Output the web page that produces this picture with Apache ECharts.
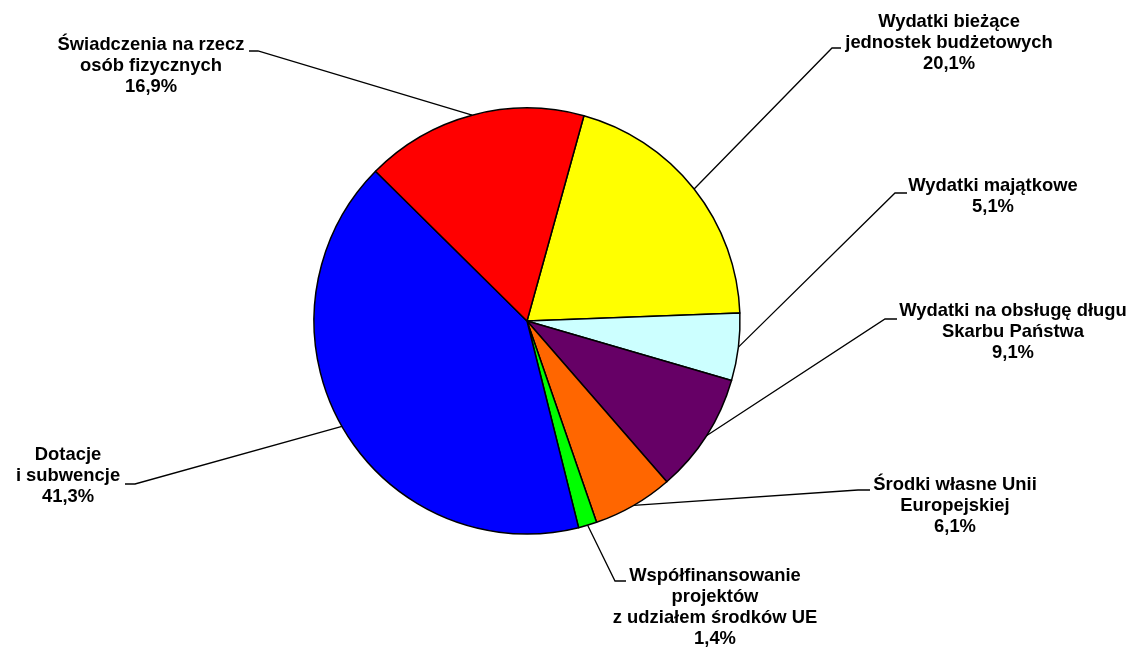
<!DOCTYPE html>
<html>
<head>
<meta charset="utf-8">
<script src="https://cdn.jsdelivr.net/npm/echarts@6/dist/echarts.min.js"></script>
<style>
html,body{margin:0;padding:0;background:#fff;}
#main{width:1136px;height:650px;}
</style>
</head>
<body>
<div id="main"></div>
<script>
// Data (clockwise from the top-right)
const categories = [
  "Wydatki bieżące\njednostek budżetowych",
  "Wydatki majątkowe",
  "Wydatki na obsługę długu\nSkarbu Państwa",
  "Środki własne Unii\nEuropejskiej",
  "Współfinansowanie\nprojektów\nz udziałem środków UE",
  "Dotacje\ni subwencje",
  "Świadczenia na rzecz\nosób fizycznych"
];
const values = [20.1, 5.1, 9.1, 6.1, 1.4, 41.3, 16.9];
const colors = ["#FFFF00", "#CCFFFF", "#660066", "#FF6600", "#00FF00", "#0000FF", "#FF0000"];

// Label layout (block centre x, block top y, leader elbow, leader end)
const labelPos = [
  {x: 949, y: 11,  elbow: [832, 48],  end: [841, 48]},
  {x: 993, y: 175, elbow: [895, 193], end: [907, 193]},
  {x: 1013, y: 300, elbow: [885, 319], end: [897, 319]},
  {x: 955, y: 474, elbow: [858, 490], end: [870, 490]},
  {x: 715, y: 565, elbow: [615, 581], end: [626, 581]},
  {x: 68,  y: 444, elbow: [135, 484], end: [125, 484]},
  {x: 151, y: 34,  elbow: [258, 51],  end: [249, 51]}
];

const chart = echarts.init(document.getElementById('main'));
chart.setOption({
  animation: false,
  backgroundColor: '#ffffff',
  series: [{
    type: 'pie',
    center: [527, 321],
    radius: 213,
    startAngle: 74.5,
    clockwise: true,
    avoidLabelOverlap: false,
    itemStyle: {borderColor: '#000', borderWidth: 1.5},
    label: {
      show: true,
      position: 'outside',
      color: '#000',
      fontFamily: 'Liberation Sans, Arial, sans-serif',
      fontWeight: 'bold',
      fontSize: 18.4,
      lineHeight: 21,
      align: 'center',
      formatter: p => p.name + '\n' + p.value.toFixed(1).replace('.', ',') + '%'
    },
    labelLine: {show: true, lineStyle: {color: '#000', width: 1.3}, length: 20, length2: 10},
    labelLayout: function (params) {
      const lp = labelPos[params.dataIndex];
      const pts = params.labelLinePoints;
      const start = pts ? pts[0] : lp.elbow;
      return {
        x: lp.x,
        y: lp.y,
        align: 'center',
        verticalAlign: 'top',
        labelLinePoints: [start, lp.elbow, lp.end]
      };
    },
    data: categories.map((c, i) => ({name: c, value: values[i], itemStyle: {color: colors[i]}}))
  }]
});
</script>
</body>
</html>
